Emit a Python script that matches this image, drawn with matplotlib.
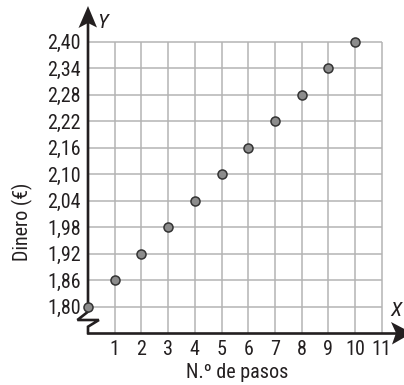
import matplotlib
matplotlib.use("Agg")
import matplotlib.pyplot as plt
from matplotlib.patches import Polygon
from matplotlib import font_manager

pasos = [0, 1, 2, 3, 4, 5, 6, 7, 8, 9, 10]
dinero = [1.80, 1.86, 1.92, 1.98, 2.04, 2.10, 2.16, 2.22, 2.28, 2.34, 2.40]
x_ticks = [1, 2, 3, 4, 5, 6, 7, 8, 9, 10, 11]
y_ticks = [1.80, 1.86, 1.92, 1.98, 2.04, 2.10, 2.16, 2.22, 2.28, 2.34, 2.40]
y_labels = ["1,80", "1,86", "1,92", "1,98", "2,04", "2,10", "2,16", "2,22", "2,28", "2,34", "2,40"]

names = {f.name for f in font_manager.fontManager.ttflist}
fam = [f for f in ["Liberation Sans Narrow", "Roboto Condensed", "Roboto", "DejaVu Sans"] if f in names]
plt.rcParams['font.family'] = fam + ["DejaVu Sans"]

W, H = 404, 385
fig = plt.figure(figsize=(W / 100, H / 100), dpi=100)
x0px, y0px, x1px, y1px = 88, 333, 401, 6
ax = fig.add_axes([x0px / W, (H - y0px) / H, (x1px - x0px) / W, (y0px - y1px) / H])
xs = 26.7
ys = 26.5 / 0.06
ymin = 1.74
ax.set_xlim(0, (x1px - x0px) / xs)
ax.set_ylim(ymin, ymin + (y0px - y1px) / ys)
for s in ax.spines.values():
    s.set_visible(False)

gc = "#b4b4b4"
ax.vlines(x_ticks, ymin, max(y_ticks), color=gc, lw=1.1, zorder=1)
ax.hlines(y_ticks, 0, max(x_ticks), color=gc, lw=1.1, zorder=1)

ax.set_xticks(x_ticks)
ax.set_xticklabels([str(v) for v in x_ticks], fontsize=14.5)
ax.set_yticks(y_ticks)
ax.set_yticklabels(y_labels, fontsize=14.5)
ax.tick_params(length=0, pad=5, colors="#231f20")

dx = 1 / xs
dy = 1 / ys
ink = "#231f20"
# y axis with break
ytop = ax.get_ylim()[1]
brk_x = [0, 0, -10.6 * dx, 10.9 * dx, 0, 0]
brk_y = [ytop - 15 * dy, ymin + 21.3 * dy, ymin + 13 * dy, ymin + 13 * dy, ymin + 6.3 * dy, ymin]
ax.plot(brk_x, brk_y, color=ink, lw=1.9, clip_on=False, zorder=3, solid_joinstyle='miter')
# x axis
xtip = 412
xtip_d = (xtip - x0px) * dx
ax.plot([0, xtip_d - 16 * dx], [ymin, ymin], color=ink, lw=1.9, clip_on=False, zorder=3)

# arrow heads
ay = Polygon([(0, ytop), (-9.5 * dx, ytop - 22 * dy), (0, ytop - 17 * dy), (9 * dx, ytop - 21.5 * dy)],
             closed=True, color=ink, clip_on=False, zorder=4, lw=0)
ax.add_patch(ay)
axx = Polygon([(xtip_d, ymin), (xtip_d - 21 * dx, ymin + 11 * dy), (xtip_d - 16 * dx, ymin),
               (xtip_d - 20 * dx, ymin - 11.5 * dy)],
              closed=True, color=ink, clip_on=False, zorder=4, lw=0)
ax.add_patch(axx)

ax.plot(pasos, dinero, 'o', ms=6.5, mfc="#8c8c8c", mec="#333333", mew=1.1, clip_on=False, zorder=5)

fig.text(102 / W, 1 - 22 / H, "Y", fontsize=15, style='italic', color=ink, ha='center', va='center')
fig.text(396 / W, 1 - 311 / H, "X", fontsize=15, style='italic', color=ink, ha='center', va='center')
fig.text(237 / W, 1 - 372 / H, "N.º de pasos", fontsize=14.5, color=ink, ha='center', va='center')
fig.text(22 / W, 1 - 222 / H, "Dinero (€)", fontsize=14.5, color=ink, ha='center', va='center', rotation=90)

fig.savefig("out.png", dpi=100)
